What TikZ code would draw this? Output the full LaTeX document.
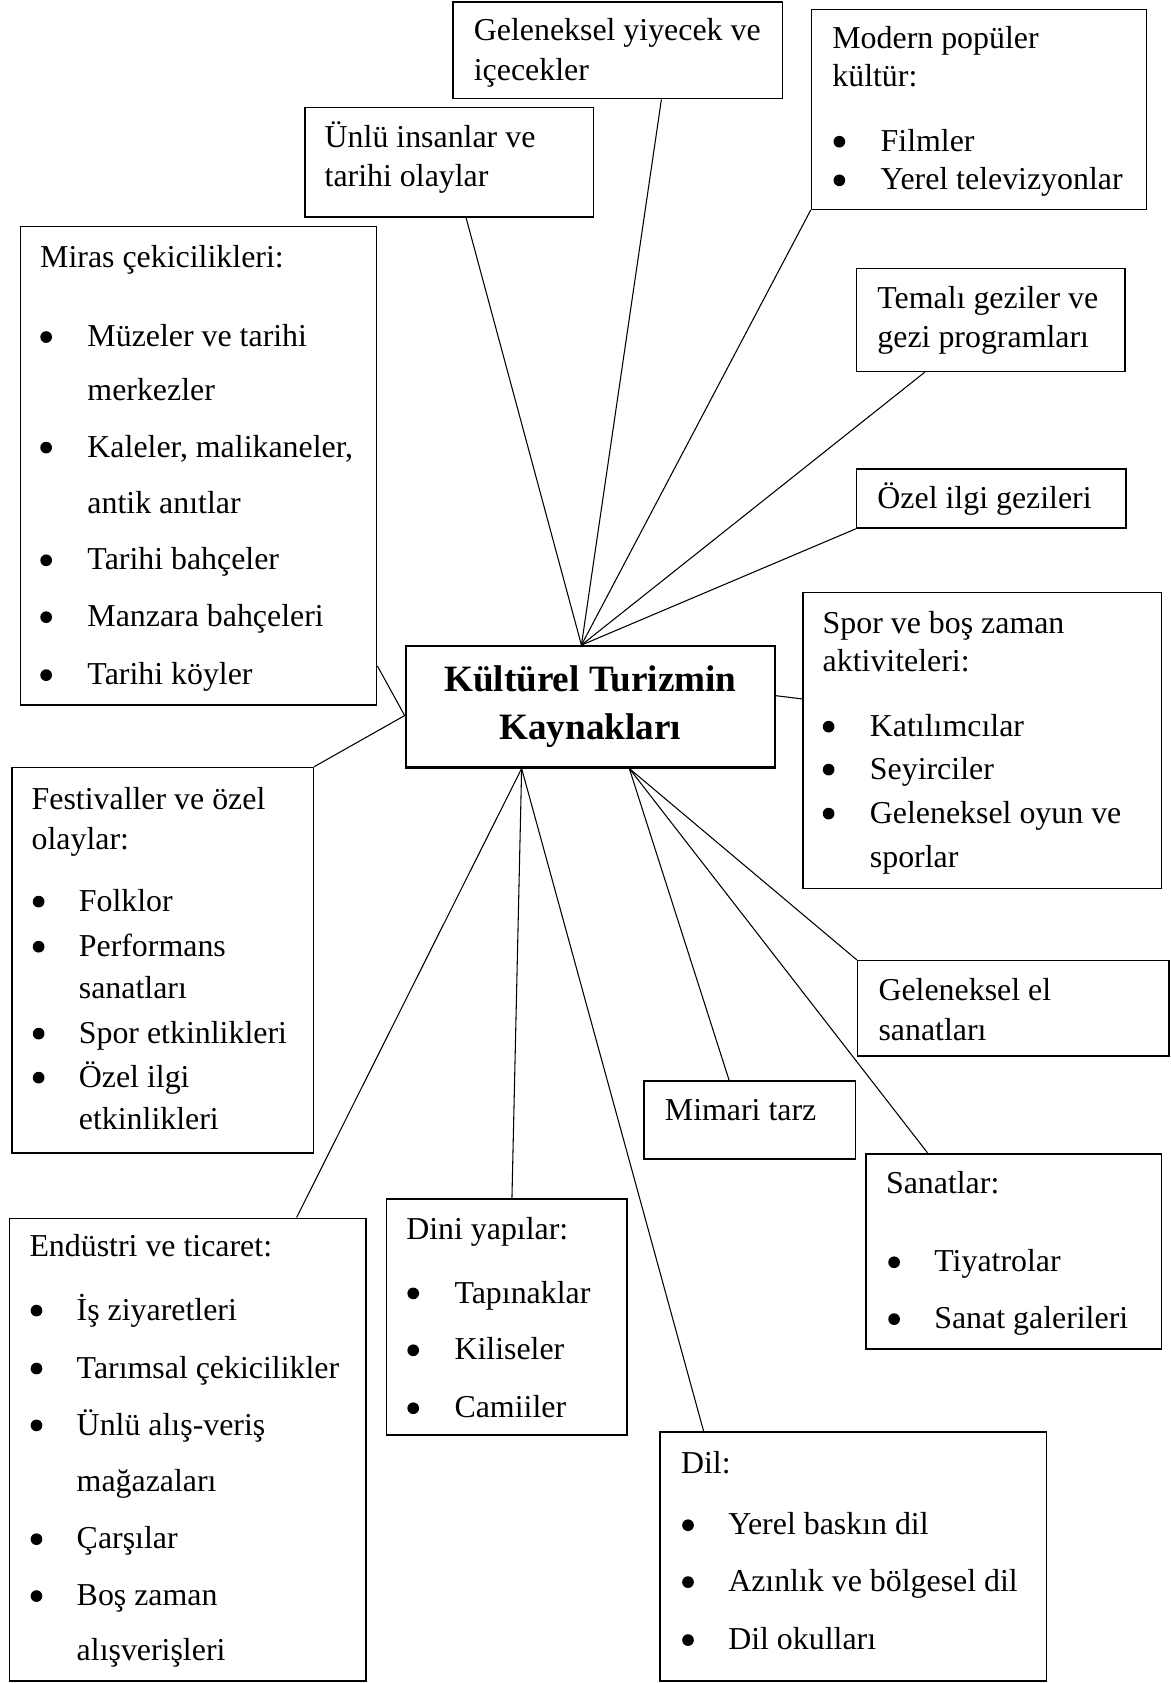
\documentclass[tikz,border=0pt]{standalone}
\usepackage{fontspec}
\setmainfont{Liberation Serif}
\usetikzlibrary{fit,calc}
\tikzset{
  box/.style={draw, line width=0.55pt, inner sep=0pt},
  mainbox/.style={draw, line width=0.8pt, inner sep=0pt},
  txt/.style={anchor=base west, inner sep=0pt, font=\fontsize{12}{14}\selectfont},
  ttl/.style={anchor=base, inner sep=0pt, font=\fontsize{14}{17}\selectfont\bfseries},
  link/.style={line width=0.4pt},
  bul/.style={fill=black},
}
\newcommand\mytxt[4]{\node[txt] (#1) at (#2,#3+9) {#4};}
\newcommand\mybul[2]{\fill[bul] (#1,#2) circle[radius=2.2pt];}
\begin{document}
\begin{tikzpicture}[x=0.404pt,y=-0.404pt]
\useasboundingbox (0,0) rectangle (1091,1568);
\fill[white] (0,0) rectangle (1091,1568);

% ---------- boxes ----------
\node[box, fit={(422,2) (729,92)}] (A) {};
\node[box, fit={(284,100) (553,202)}] (B) {};
\node[box, fit={(756,9) (1068,195)}] (C) {};
\node[box, fit={(19,211) (351,657)}] (D) {};
\node[box, fit={(798,250) (1048,346)}] (E) {};
\node[box, fit={(798,437) (1049,492)}] (F) {};
\node[mainbox, fit={(378,602) (722,715)}] (G) {};
\node[box, fit={(748,552) (1082,828)}] (H) {};
\node[box, fit={(11,715) (292,1074)}] (I) {};
\node[box, fit={(799,895) (1089,984)}] (J) {};
\node[box, fit={(600,1007) (797,1080)}] (K) {};
\node[box, fit={(807,1075) (1082,1257)}] (L) {};
\node[box, fit={(9,1135) (341,1566)}] (M) {};
\node[box, fit={(360,1117) (584,1337)}] (N) {};
\node[box, fit={(615,1334) (975,1566)}] (O) {};

% ---------- texts ----------
\mytxt{A1}{441}{29}{Geleneksel yiyecek ve}
\mytxt{A2}{441}{66}{içecekler}

\mytxt{B1}{302}{128}{Ünlü insanlar ve}
\mytxt{B2}{302}{165}{tarihi olaylar}

\mytxt{C1}{775}{36}{Modern popüler}
\mytxt{C2}{775}{72}{kültür:}
\mybul{782}{132}\mytxt{C3}{820}{132}{Filmler}
\mybul{782}{168}\mytxt{C4}{820}{168}{Yerel televizyonlar}

\mytxt{D1}{37}{240}{Miras çekicilikleri:}
\mybul{43}{314}\mytxt{D2}{81}{314}{Müzeler ve tarihi}
\mytxt{D3}{81}{364}{merkezler}
\mybul{43}{417}\mytxt{D4}{81}{417}{Kaleler, malikaneler,}
\mytxt{D5}{81}{469}{antik anıtlar}
\mybul{43}{522}\mytxt{D6}{81}{522}{Tarihi bahçeler}
\mybul{43}{575}\mytxt{D7}{81}{575}{Manzara bahçeleri}
\mybul{43}{629}\mytxt{D8}{81}{629}{Tarihi köyler}

\mytxt{E1}{817}{278}{Temalı geziler ve}
\mytxt{E2}{817}{315}{gezi programları}

\mytxt{F1}{817}{465}{Özel ilgi gezileri}

\node[ttl] (G1) at (550,644.5) {Kültürel Turizmin};
\node[ttl] (G2) at (550,688.5) {Kaynakları};

\mytxt{H1}{766}{581}{Spor ve boş zaman}
\mytxt{H2}{766}{617}{aktiviteleri:}
\mybul{772}{677}\mytxt{H3}{810}{677}{Katılımcılar}
\mybul{772}{717}\mytxt{H4}{810}{717}{Seyirciler}
\mybul{772}{758}\mytxt{H5}{810}{758}{Geleneksel oyun ve}
\mytxt{H6}{810}{799}{sporlar}

\mytxt{I1}{29}{745}{Festivaller ve özel}
\mytxt{I2}{29}{782}{olaylar:}
\mybul{36}{840}\mytxt{I3}{73}{840}{Folklor}
\mybul{36}{882}\mytxt{I4}{73}{882}{Performans}
\mytxt{I5}{73}{921}{sanatları}
\mybul{36}{963}\mytxt{I6}{73}{963}{Spor etkinlikleri}
\mybul{36}{1004}\mytxt{I7}{73}{1004}{Özel ilgi}
\mytxt{I8}{73}{1043}{etkinlikleri}

\mytxt{J1}{818}{923}{Geleneksel el}
\mytxt{J2}{818}{960}{sanatları}

\mytxt{K1}{619}{1035}{Mimari tarz}

\mytxt{L1}{825}{1103}{Sanatlar:}
\mybul{833}{1176}\mytxt{L2}{870}{1176}{Tiyatrolar}
\mybul{833}{1229}\mytxt{L3}{870}{1229}{Sanat galerileri}

\mytxt{M1}{27}{1162}{Endüstri ve ticaret:}
\mybul{34}{1221}\mytxt{M2}{71}{1221}{İş ziyaretleri}
\mybul{34}{1275}\mytxt{M3}{71}{1275}{Tarımsal çekicilikler}
\mybul{34}{1328}\mytxt{M4}{71}{1328}{Ünlü alış-veriş}
\mytxt{M5}{71}{1381}{mağazaları}
\mybul{34}{1434}\mytxt{M6}{71}{1434}{Çarşılar}
\mybul{34}{1487}\mytxt{M7}{71}{1487}{Boş zaman}
\mytxt{M8}{71}{1538}{alışverişleri}

\mytxt{N1}{378}{1146}{Dini yapılar:}
\mybul{385}{1205}\mytxt{N2}{423}{1205}{Tapınaklar}
\mybul{385}{1258}\mytxt{N3}{423}{1258}{Kiliseler}
\mybul{385}{1312}\mytxt{N4}{423}{1312}{Camiiler}

\mytxt{O1}{634}{1364}{Dil:}
\mybul{641}{1421}\mytxt{O2}{678}{1421}{Yerel baskın dil}
\mybul{641}{1474}\mytxt{O3}{678}{1474}{Azınlık ve bölgesel dil}
\mybul{641}{1528}\mytxt{O4}{678}{1528}{Dil okulları}

% ---------- connection points on the centre box ----------
\coordinate (gt)  at ($(G.north west)!0.476!(G.north east)$);
\coordinate (gl)  at ($(G.north west)!0.571!(G.south west)$);
\coordinate (gr)  at ($(G.north east)!0.41!(G.south east)$);
\coordinate (gbl) at ($(G.south west)!0.315!(G.south east)$);
\coordinate (gbr) at ($(G.south west)!0.605!(G.south east)$);

% ---------- connectors ----------
\draw[link] ($(B.south west)!0.558!(B.south east)$) -- (gt);
\draw[link] ($(A.south west)!0.632!(A.south east)$) -- (gt);
\draw[link] (C.south west) -- (gt);
\draw[link] ($(E.south west)!0.256!(E.south east)$) -- (gt);
\draw[link] (F.south west) -- (gt);
\draw[link] ($(D.north east)!0.917!(D.south east)$) -- (gl);
\draw[link] (I.north east) -- (gl);
\draw[link] ($(H.north west)!0.36!(H.south west)$) -- (gr);
\draw[link] ($(M.north west)!0.804!(M.north east)$) -- (gbl);
\draw[link] ($(N.north west)!0.522!(N.north east)$) -- (gbl);
\draw[link] ($(O.north west)!0.114!(O.north east)$) -- (gbl);
\draw[link] ($(K.north west)!0.403!(K.north east)$) -- (gbr);
\draw[link] ($(L.north west)!0.21!(L.north east)$) -- (gbr);
\draw[link] (J.north west) -- (gbr);
\end{tikzpicture}
\end{document}
